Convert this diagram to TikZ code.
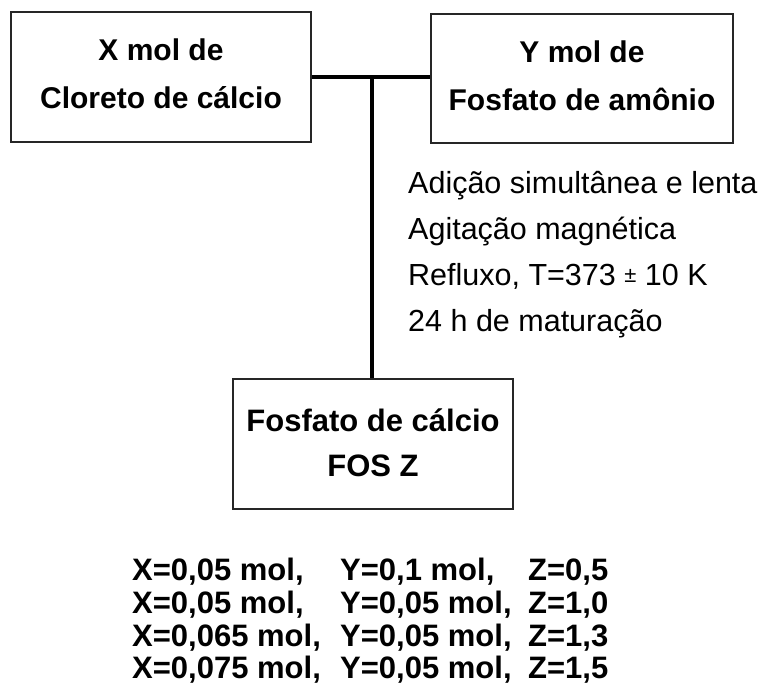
\documentclass[tikz,border=0pt]{standalone}
\usepackage{fontspec}
\setmainfont{Liberation Sans}
\begin{document}
\begin{tikzpicture}[x=1pt,y=-1pt,
  box/.style={draw=black!85,line width=1.3pt,rectangle,align=center,inner sep=0pt},
  boxfont/.style={font={\bfseries\fontsize{30}{48}\selectfont}},
  cond/.style={anchor=base west,inner sep=0pt,font={\fontsize{30.5}{36}\selectfont}},
  res/.style={anchor=base west,inner sep=0pt,font={\bfseries\fontsize{31}{34}\selectfont}},
  link/.style={line width=3.5pt}]
\useasboundingbox (0,0) rectangle (765,686);
\node[box,boxfont,minimum width=300pt,minimum height=130pt,text depth=6pt] (cl) at (161,77) {X mol de\\Cloreto de cálcio};
\node[box,boxfont,minimum width=302pt,minimum height=129pt,text depth=6pt] (fa) at (582,78.5) {Y mol de\\Fosfato de amônio};
\node[box,font={\bfseries\fontsize{31}{45}\selectfont},minimum width=280pt,minimum height=130pt,text depth=3pt] (fc) at (373,444) {Fosfato de cálcio\\FOS Z};
\coordinate (j) at (372,77);
\draw[link] (cl.east |- j) -- (fa.west |- j);
\draw[link] (j) -- (j |- fc.north);
\node[cond] (c1) at (408,193) {Adição simultânea e lenta};
\node[cond] (c2) at (408,239) {Agitação magnética};
\node[cond] (c3) at (408,285) {Refluxo, T=373 \raisebox{3pt}{\fontsize{22}{22}\selectfont ±} 10 K};
\node[cond] (c4) at (408,331) {24 h de maturação};
\node[res] (r1) at (132,580) {\makebox[208pt][l]{X=0,05 mol,}\makebox[188pt][l]{Y=0,1 mol,}Z=0,5};
\node[res] (r2) at (132,613) {\makebox[208pt][l]{X=0,05 mol,}\makebox[188pt][l]{Y=0,05 mol,}Z=1,0};
\node[res] (r3) at (132,646) {\makebox[208pt][l]{X=0,065 mol,}\makebox[188pt][l]{Y=0,05 mol,}Z=1,3};
\node[res] (r4) at (132,678.5) {\makebox[208pt][l]{X=0,075 mol,}\makebox[188pt][l]{Y=0,05 mol,}Z=1,5};
\end{tikzpicture}
\end{document}
